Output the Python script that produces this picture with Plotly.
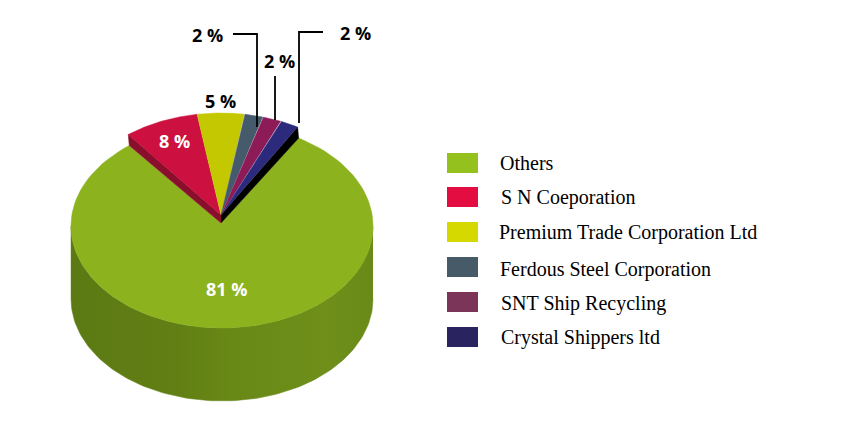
import numpy as np
import plotly.graph_objects as go

# chart data
names = ["Others", "S N Coeporation", "Premium Trade Corporation Ltd",
         "Ferdous Steel Corporation", "SNT Ship Recycling", "Crystal Shippers ltd"]
shares = [81, 8, 5, 2, 2, 2]
slice_colors = ["#8CB21E", "#CC103F", "#C4C800", "#455B6B", "#8C1B58", "#2B2A7C"]
legend_colors = ["#95C11F", "#E30D42", "#D5D900", "#465A68", "#7B3558", "#292360"]
label_colors = ["white", "white", "black", "black", "black", "black"]

# pie geometry, in page pixels
CX, CY = 222, 226      # top face of the body
RX, RY = 151, 102
DEPTH = 73             # height of the body
LIFT_X, LIFT_Y = -1, -11   # small slices sit a bit higher
WALL = 8               # thickness of the lifted slices at the centre
ROTATION = 30.5        # clockwise from 12 o'clock, where Others starts


def rim(angle, cx, cy):
    t = np.radians(angle)
    return cx + RX * np.sin(t), cy - RY * np.cos(t)


def arc(a0, a1, cx, cy):
    return rim(np.linspace(a0, a1, 120), cx, cy)


fig = go.Figure()


def poly(xs, ys, color, **kw):
    fig.add_trace(go.Scatter(x=list(xs), y=list(ys), mode="lines", fill="toself",
                             fillcolor=color, line=dict(color=color, width=0.5),
                             hoverinfo="skip", showlegend=False, **kw))


# edges of each slice
edges = ROTATION + np.concatenate([[0], np.cumsum(shares)]) * 3.6

# body side
sx, sy = arc(90, 270, CX, CY + DEPTH)
tx, ty = arc(270, 90, CX, CY)
poly(np.r_[sx, tx], np.r_[sy, ty], "#66851A",
     fillgradient=dict(type="horizontal",
                       colorscale=[[0, "#5C7A13"], [0.35, "#617F14"], [0.55, "#698917"],
                                   [0.85, "#6F8F1A"], [1, "#6A8A18"]]))

# Others, top face with the notch running to the foot of the lifted slices
wx, wy = CX + LIFT_X, CY + LIFT_Y
ax, ay = arc(edges[0], edges[1], CX, CY)
poly(np.r_[wx, ax], np.r_[wy + WALL, ay], slice_colors[0])

# walls of the lifted block, down to the rim of the body
for edge, color in [(edges[1], "#8A0F2C"), (edges[-1], "#000000")]:
    ux, uy = rim(edge, wx, wy)
    bx, by = rim(edge, CX, CY)
    poly([wx, ux, bx, wx], [wy, uy, by, wy + WALL], color)

# lifted slices
for i in range(1, len(shares)):
    ax, ay = arc(edges[i], edges[i + 1], wx, wy)
    poly(np.r_[wx, ax], np.r_[wy, ay], slice_colors[i])

# leader lines
leaders = ["M233,34 L257,34 L257,127", "M275,76 L275,120", "M323,32 L299,32 L299,123"]
for path in leaders:
    fig.add_shape(type="path", path=path, xref="x", yref="y",
                  line=dict(color="black", width=1.8))

# value labels
label_pos = [(226, 289), (174, 141), (220, 101), (207, 35), (279, 61), (355, 33)]
for share, color, (x, y) in zip(shares, label_colors, label_pos):
    fig.add_annotation(x=x, y=y, text=f"{share} %", showarrow=False,
                       font=dict(family="Open Sans", size=18, color=color, weight="bold"))

# legend
swatch_y = [163, 197, 232, 267, 302, 337]
text_y = [163, 197, 232, 269, 303, 337]
text_x = [498, 499, 497, 498, 499, 499]
for name, color, sy_, x, y in zip(names, legend_colors, swatch_y, text_x, text_y):
    fig.add_shape(type="rect", x0=447, x1=478, y0=sy_ - 10, y1=sy_ + 10, xref="x", yref="y",
                  fillcolor=color, line=dict(width=0))
    fig.add_annotation(x=x, y=y, text=name, showarrow=False, xanchor="left",
                       font=dict(family="Liberation Serif", size=20, color="black"))

fig.update_layout(
    width=851, height=426,
    margin=dict(l=0, r=0, t=0, b=0),
    paper_bgcolor="white", plot_bgcolor="white",
    xaxis=dict(range=[0, 851], visible=False),
    yaxis=dict(range=[426, 0], visible=False),
    showlegend=False,
)

fig.write_html("out.html", config=dict(displayModeBar=False),
               post_script="document.body.style.margin='0';")
